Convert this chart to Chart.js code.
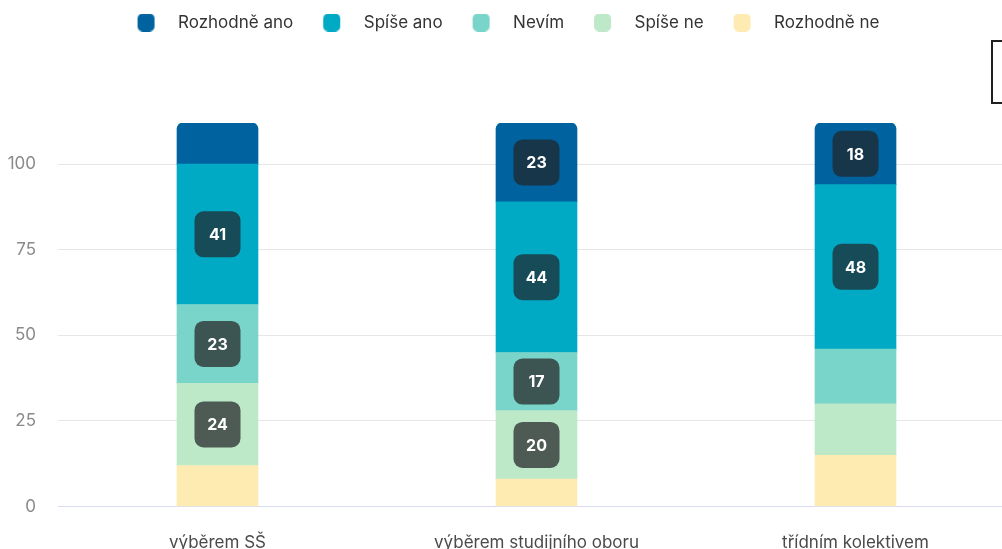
<!DOCTYPE html>
<html lang="cs">
<head>
<meta charset="UTF-8">
<title>Spokojenost s výběrem</title>
<style>
  html, body { margin: 0; padding: 0; background: #fff; overflow: hidden; }
  .wrap { position: relative; width: 1002px; height: 549px; overflow: hidden; }
  #chart { position: absolute; left: 0; top: 0; }
  .side-box { position: absolute; left: 991px; top: 40px; width: 40px; height: 60px; border: 2px solid #1f1f1f; }
</style>
</head>
<body>
<div class="wrap">
  <canvas id="chart" width="1015" height="579"></canvas>
  <div class="side-box"></div>
</div>
<script src="https://cdn.jsdelivr.net/npm/chart.js"></script>
<script>
// data
const categories = ['výběrem SŠ', 'výběrem studijního oboru', 'třídním kolektivem'];
const rozhodneAno = [12, 23, 18];
const spiseAno = [41, 44, 48];
const nevim = [23, 17, 16];
const spiseNe = [24, 20, 15];
const rozhodneNe = [12, 8, 15];
const yTicks = [0, 25, 50, 75, 100];
const yMax = 112;
const LABEL_MIN = 17;

// swatch for legend: rounded box with some room on the left
const SWATCH_GAP = 2;
const LEGEND_PAD = 28;
function makeSwatch(color) {
    let c = document.createElement('canvas');
    c.width = SWATCH_GAP + 32;
    c.height = 18;
    let g = c.getContext('2d');
    let x = SWATCH_GAP, y = 0, w = 17, h = 18, r = 5;
    g.fillStyle = color;
    g.beginPath();
    g.moveTo(x + r, y);
    g.lineTo(x + w - r, y);
    g.arcTo(x + w, y, x + w, y + r, r);
    g.lineTo(x + w, y + h - r);
    g.arcTo(x + w, y + h, x + w - r, y + h, r);
    g.lineTo(x + r, y + h);
    g.arcTo(x, y + h, x, y + h - r, r);
    g.lineTo(x, y + r);
    g.arcTo(x, y, x + r, y, r);
    g.closePath();
    g.fill();
    return c;
}

function roundBox(ctx, x, y, w, h, r) {
    ctx.beginPath();
    ctx.moveTo(x + r, y);
    ctx.arcTo(x + w, y, x + w, y + h, r);
    ctx.arcTo(x + w, y + h, x, y + h, r);
    ctx.arcTo(x, y + h, x, y, r);
    ctx.arcTo(x, y, x + w, y, r);
    ctx.closePath();
}

// bottom to top
const datasets = [
    { label: 'Rozhodně ne', data: rozhodneNe, backgroundColor: '#feebb2', tag: null },
    { label: 'Spíše ne', data: spiseNe, backgroundColor: '#bde9c8', tag: '#4d5b54' },
    { label: 'Nevím', data: nevim, backgroundColor: '#79d5c9', tag: '#3c5553' },
    { label: 'Spíše ano', data: spiseAno, backgroundColor: '#00aac4', tag: '#174b57' },
    { label: 'Rozhodně ano', data: rozhodneAno, backgroundColor: '#00639f', tag: '#18364a',
      borderRadius: { topLeft: 6, topRight: 6, bottomLeft: 0, bottomRight: 0 }, borderSkipped: false }
];
datasets.forEach(ds => {
    ds.barThickness = 81;
    ds.pointStyle = makeSwatch(ds.backgroundColor);
});

const segmentLabels = {
    id: 'segmentLabels',
    afterDatasetsDraw(chart) {
        let ctx = chart.ctx;
        chart.data.datasets.forEach((ds, i) => {
            let meta = chart.getDatasetMeta(i);
            if (meta.hidden || !ds.tag) return;
            meta.data.forEach((bar, j) => {
                let v = ds.data[j];
                if (v < LABEL_MIN) return;
                let cx = bar.x;
                let cy = (bar.y + bar.base) / 2;
                ctx.save();
                ctx.fillStyle = ds.tag;
                roundBox(ctx, cx - 23, cy - 23, 46, 46, 9);
                ctx.fill();
                ctx.fillStyle = '#ffffff';
                ctx.font = '700 16px Inter';
                ctx.textAlign = 'center';
                ctx.textBaseline = 'middle';
                ctx.fillText(String(v), cx, cy + 1);
                ctx.restore();
            });
        });
    }
};

// more room under the legend
const legendSpace = {
    id: 'legendSpace',
    beforeInit(chart) {
        let fit = chart.legend.fit;
        chart.legend.fit = function () {
            fit.bind(chart.legend)();
            this.height += 82;
        };
    }
};

new Chart(document.getElementById('chart'), {
    type: 'bar',
    data: { labels: categories, datasets: datasets },
    plugins: [segmentLabels, legendSpace],
    options: {
        responsive: false,
        animation: false,
        layout: { padding: { top: -14, left: 0, right: 0, bottom: 0 } },
        plugins: {
            legend: {
                position: 'top',
                reverse: true,
                labels: {
                    usePointStyle: true,
                    pointStyleWidth: SWATCH_GAP + 32,
                    boxHeight: 16,
                    padding: LEGEND_PAD,
                    color: '#333333',
                    font: { family: 'Inter', size: 17 }
                }
            },
            tooltip: { enabled: false }
        },
        scales: {
            x: {
                stacked: true,
                grid: { display: false, drawTicks: false },
                border: { display: true, color: '#d8dcf0' },
                ticks: { color: '#4a4a4a', font: { family: 'Inter', size: 17 }, padding: 26 }
            },
            y: {
                stacked: true,
                min: 0,
                max: yMax,
                border: { display: false },
                grid: {
                    drawTicks: false,
                    color: c => (c.tick && c.tick.value === 0) ? '#d8dcf0' : '#e6e6e6'
                },
                afterBuildTicks(scale) {
                    scale.ticks = yTicks.map(v => ({ value: v }));
                },
                ticks: { color: '#8a8a8a', font: { family: 'Inter', size: 17 }, padding: 22 },
                afterFit(scale) { scale.width = 58; }
            }
        }
    }
});
</script>
</body>
</html>
